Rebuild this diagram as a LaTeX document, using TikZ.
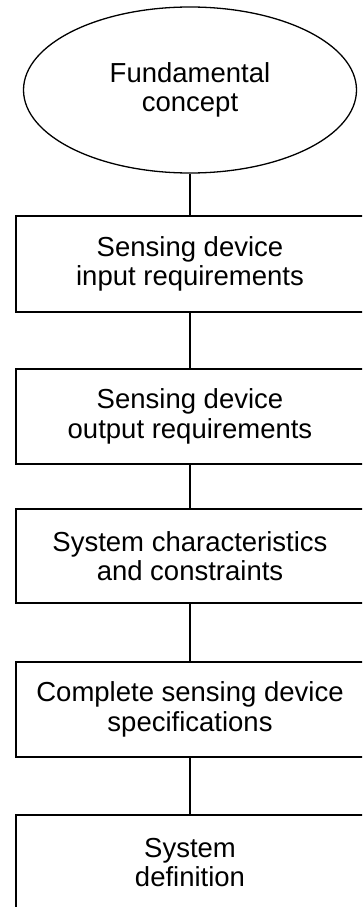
\documentclass[tikz,border=0pt]{standalone}
\usepackage{fontspec}
\setmainfont{Liberation Sans}
\usetikzlibrary{shapes.geometric}
\begin{document}
\begin{tikzpicture}[x=1pt,y=-1pt,
  every node/.style={font=\fontsize{27.5}{29.5}\selectfont, align=center, line width=2pt, draw=black, inner sep=0pt},
  stepbox/.style={rectangle, minimum width=348pt},
  oval/.style={ellipse, minimum width=333pt, minimum height=166pt, line width=1.3pt},
  link/.style={line width=2pt}]
\useasboundingbox (0,0) rectangle (362,907);
\clip (0,0) rectangle (362,907);
\node[oval] (fc) at (190,90) {Fundamental\\concept};
\node[stepbox, minimum height=96pt] (b1) at (190,264) {Sensing device\\input requirements};
\node[stepbox, minimum height=95pt] (b2) at (190,416.5) {Sensing device\\output requirements};
\node[stepbox, minimum height=94pt] (b3) at (190,556) {System characteristics\\and constraints};
\node[stepbox, minimum height=95pt] (b4) at (190,709.5) {Complete sensing device\\specifications};
\node[stepbox, minimum height=95pt] (b5) at (190,862.5) {System\\definition};
\draw[link] (fc) -- (b1);
\draw[link] (b1) -- (b2);
\draw[link] (b2) -- (b3);
\draw[link] (b3) -- (b4);
\draw[link] (b4) -- (b5);
\end{tikzpicture}
\end{document}
